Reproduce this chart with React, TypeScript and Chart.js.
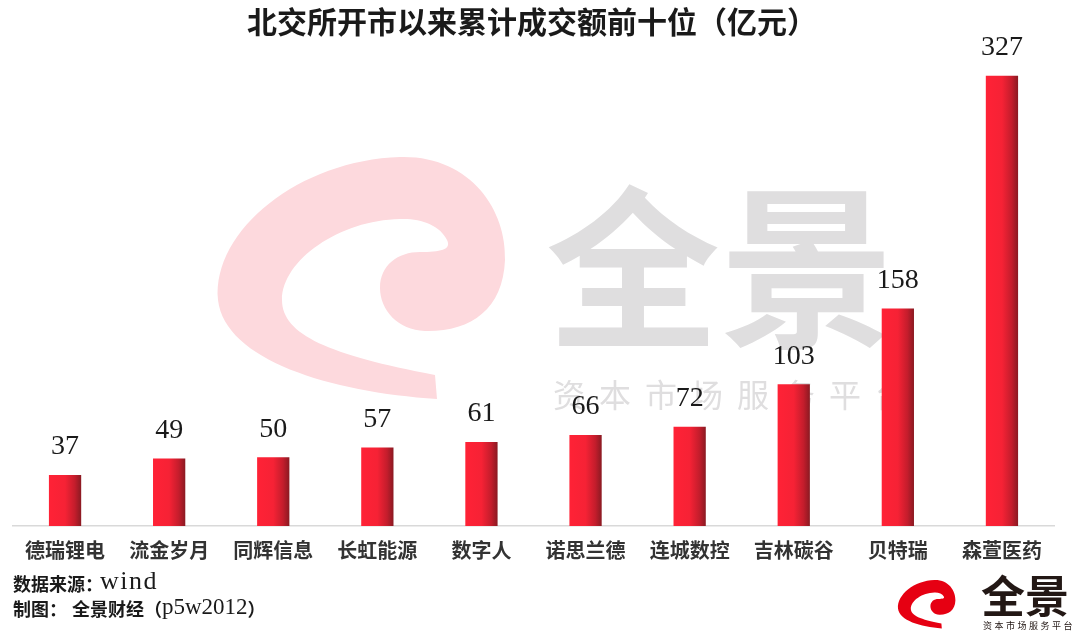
import React, { useEffect, useRef } from "react";
import { Chart, registerables } from "chart.js";

Chart.register(...registerables);

const categories = ["德瑞锂电", "流金岁月", "同辉信息", "长虹能源", "数字人", "诺思兰德", "连城数控", "吉林碳谷", "贝特瑞", "森萱医药"];
const values = [37, 49, 50, 57, 61, 66, 72, 103, 158, 327];
const titleText = "北交所开市以来累计成交额前十位（亿元）";
const sourceLabel = "数据来源：";
const sourceValue = "wind";
const makerLabel = "制图：";
const makerName = "全景财经（";
const makerId = "p5w2012";
const makerClose = "）";
const brandName = "全景";
const brandSlogan = "资本市场服务平台";

const BAR_FRACTION = 0.31;
const CJK = '"Noto Sans CJK SC", "Noto Sans", sans-serif';
const SERIF = '"Liberation Serif", "DejaVu Serif", serif';

function drawSwirl(ctx: CanvasRenderingContext2D, ox: number, oy: number, s: number, color: string) {
  ctx.save();
  ctx.translate(ox, oy);
  ctx.scale(s, s);
  ctx.translate(-218, -157);
  ctx.fillStyle = color;
  ctx.beginPath();
  ctx.moveTo(437, 399);
  ctx.bezierCurveTo(330, 392, 225, 360, 218, 300);
  ctx.bezierCurveTo(212, 230, 300, 160, 400, 157);
  ctx.bezierCurveTo(470, 155, 507, 210, 505, 260);
  ctx.bezierCurveTo(503, 310, 470, 332, 425, 331);
  ctx.bezierCurveTo(398, 330, 380, 310, 380, 288);
  ctx.bezierCurveTo(380, 265, 398, 252, 420, 252);
  ctx.bezierCurveTo(440, 252, 452, 250, 447, 240);
  ctx.bezierCurveTo(440, 225, 420, 218, 400, 219);
  ctx.bezierCurveTo(340, 220, 282, 260, 282, 300);
  ctx.bezierCurveTo(282, 335, 330, 355, 435, 375);
  ctx.closePath();
  ctx.fill();
  ctx.restore();
}

const decorPlugin = {
  id: "decor",
  beforeDatasetsDraw(chart: any) {
    const ctx = chart.ctx as CanvasRenderingContext2D;
    drawSwirl(ctx, 218, 157, 1, "#FDD9DD");
    ctx.save();
    ctx.fillStyle = "#DFDEDF";
    ctx.font = `bold 174px ${CJK}`;
    ctx.textBaseline = "middle";
    ctx.textAlign = "left";
    ctx.fillText(brandName, 546, 268);
    ctx.font = `32px ${CJK}`;
    brandSlogan.split("").forEach((c, i) => {
      ctx.fillText(c, 553 + i * 46, 395);
    });
    ctx.restore();
  },
  afterDatasetsDraw(chart: any) {
    const ctx = chart.ctx as CanvasRenderingContext2D;
    const meta = chart.getDatasetMeta(0);
    ctx.save();
    ctx.fillStyle = "#1a1a1a";
    ctx.font = `28px ${SERIF}`;
    ctx.textAlign = "center";
    ctx.textBaseline = "middle";
    meta.data.forEach((bar: any, i: number) => {
      ctx.fillText(String(values[i]), bar.x, bar.y - 28);
    });
    ctx.restore();
  },
  afterDraw(chart: any) {
    const ctx = chart.ctx as CanvasRenderingContext2D;
    ctx.save();
    ctx.fillStyle = "#1a1a1a";
    ctx.textBaseline = "middle";
    ctx.textAlign = "center";
    ctx.font = `bold 30px ${CJK}`;
    ctx.fillText(titleText, 532, 22);
    ctx.textAlign = "left";
    ctx.font = `bold 18px ${CJK}`;
    ctx.fillText(sourceLabel, 13, 584);
    ctx.font = `26px ${SERIF}`;
    (ctx as any).letterSpacing = "1.5px";
    ctx.fillText(sourceValue, 100, 582);
    (ctx as any).letterSpacing = "0px";
    ctx.font = `bold 18px ${CJK}`;
    ctx.fillText(makerLabel, 13, 609);
    ctx.fillText(makerName, 72, 609);
    let x = 72 + ctx.measureText(makerName).width;
    ctx.font = `23px ${SERIF}`;
    ctx.fillText(makerId, x, 608);
    x += ctx.measureText(makerId).width;
    ctx.font = `bold 18px ${CJK}`;
    ctx.fillText(makerClose, x, 609);
    // bottom-right logo
    drawSwirl(ctx, 898, 580, 0.2, "#E60012");
    ctx.fillStyle = "#231815";
    ctx.font = `bold 44px ${CJK}`;
    ctx.fillText(brandName, 981, 596);
    ctx.font = `9px ${CJK}`;
    brandSlogan.split("").forEach((c, i) => {
      ctx.fillText(c, 983 + i * 11.5, 626);
    });
    ctx.restore();
  },
};

export default function App() {
  const ref = useRef<HTMLCanvasElement>(null);
  useEffect(() => {
    if (!ref.current) return;
    const chart = new Chart(ref.current, {
      type: "bar",
      data: {
        labels: categories,
        datasets: [
          {
            data: values,
            barPercentage: BAR_FRACTION,
            categoryPercentage: 1,
            backgroundColor: (c: any) => {
              const ch = c.chart;
              const xs = ch.scales?.x;
              const area = ch.chartArea;
              if (!xs || !area || c.dataIndex === undefined) return "#F52233";
              const cx = xs.getPixelForValue(c.dataIndex);
              const bw = (area.right - area.left) / categories.length * BAR_FRACTION;
              const g = ch.ctx.createLinearGradient(cx - bw / 2, 0, cx + bw / 2, 0);
              g.addColorStop(0, "#FF2236");
              g.addColorStop(0.5, "#F62235");
              g.addColorStop(0.8, "#C41D2C");
              g.addColorStop(1, "#8A1A22");
              return g;
            },
            borderWidth: 0,
          },
        ],
      },
      options: {
        animation: false,
        responsive: false,
        maintainAspectRatio: false,
        layout: { padding: { left: 13, right: 26, top: 44, bottom: 68 } },
        plugins: { legend: { display: false }, tooltip: { enabled: false }, title: { display: false } },
        scales: {
          x: {
            grid: { display: false, drawTicks: false },
            border: { display: true, color: "#D9D9D9", width: 1.5 },
            ticks: { color: "#333333", font: { family: CJK, size: 20, weight: "bold" }, padding: 12, maxRotation: 0, autoSkip: false },
          },
          y: { display: false, min: 0, max: 350 },
        },
      },
      plugins: [decorPlugin],
    });
    return () => chart.destroy();
  }, []);
  return (
    <div style={{ position: "absolute", left: 0, top: 0, width: 1080, height: 642, background: "#fff" }}>
      <canvas ref={ref} width={1080} height={642} style={{ display: "block" }} />
    </div>
  );
}
